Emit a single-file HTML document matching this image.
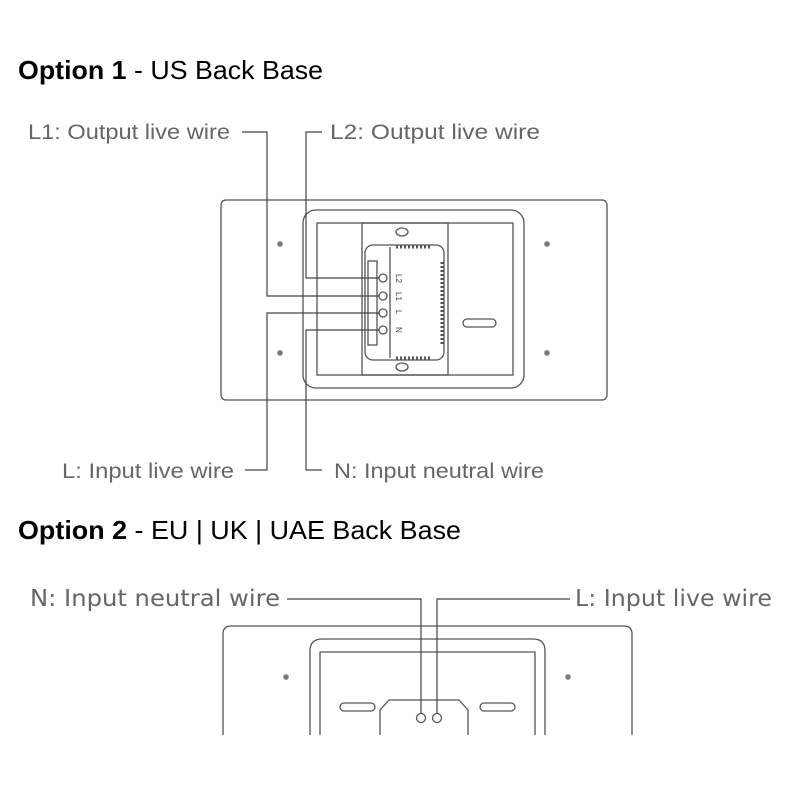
<!DOCTYPE html>
<html><head><meta charset="utf-8"><style>
html,body{margin:0;padding:0;background:#fff;width:800px;height:800px;overflow:hidden}
svg{display:block}
.t{font-family:"Liberation Sans",sans-serif;font-size:26px;fill:#000}
.l{font-family:"Liberation Sans",sans-serif;font-size:21px;fill:#666}
.l2{font-family:"DejaVu Sans","Liberation Sans",sans-serif;font-size:23px;fill:#666}
</style></head><body>
<svg width="800" height="800" viewBox="0 0 800 800" xmlns="http://www.w3.org/2000/svg">
<text x="18" y="79" class="t" textLength="305" lengthAdjust="spacingAndGlyphs"><tspan font-weight="bold">Option 1</tspan> - US Back Base</text>
<text x="18" y="539" class="t" textLength="443" lengthAdjust="spacingAndGlyphs"><tspan font-weight="bold">Option 2</tspan> - EU | UK | UAE Back Base</text>

<g fill="none" stroke="#555" stroke-width="1.3">
<rect x="221" y="200" width="386" height="200" rx="5"/>
<rect x="303" y="210" width="221" height="178" rx="13"/>
<rect x="317" y="223" width="196" height="152"/>
<rect x="362" y="223" width="86" height="152"/>
<ellipse cx="402" cy="232" rx="6" ry="4"/>
<ellipse cx="402" cy="367" rx="6" ry="4"/>
<rect x="365" y="245" width="79" height="115" rx="8"/>
<line x1="390" y1="247" x2="390" y2="358"/>
<rect x="368" y="261" width="9" height="84"/>
<circle cx="383" cy="278" r="4"/><circle cx="383" cy="296" r="4"/>
<circle cx="383" cy="313" r="4"/><circle cx="383" cy="330" r="4"/>
<rect x="463" y="319" width="33" height="8" rx="4"/>
</g>
<g fill="#777" stroke="#999" stroke-width="1">
<circle cx="280" cy="244" r="2.5"/><circle cx="547" cy="244" r="2.5"/>
<circle cx="280" cy="353" r="2.5"/><circle cx="547" cy="353" r="2.5"/>
<circle cx="286" cy="677" r="2.5"/><circle cx="568" cy="677" r="2.5"/>
</g>
<g stroke="#555" stroke-width="3" stroke-dasharray="2 2">
<line x1="396" y1="247" x2="432" y2="247"/>
<line x1="442" y1="262" x2="442" y2="346"/>
<line x1="396" y1="358" x2="432" y2="358"/>
</g>
<g font-family="Liberation Sans,sans-serif" font-size="8" fill="#444">
<text transform="translate(396,274) rotate(90)">L2</text>
<text transform="translate(396,292) rotate(90)">L1</text>
<text transform="translate(396,310) rotate(90)">L</text>
<text transform="translate(396,327) rotate(90)">N</text>
</g>
<g fill="none" stroke="#444" stroke-width="1.2">
<polyline points="242,132 267,132 267,296 379,296"/>
<polyline points="322,132 306,132 306,278 379,278"/>
<polyline points="245,470 267,470 267,313 379,313"/>
<polyline points="322,470 306,470 306,330 379,330"/>
</g>
<text x="28" y="139" class="l" textLength="202" lengthAdjust="spacingAndGlyphs">L1: Output live wire</text>
<text x="330" y="139" class="l" textLength="210" lengthAdjust="spacingAndGlyphs">L2: Output live wire</text>
<text x="62" y="478" class="l" textLength="172" lengthAdjust="spacingAndGlyphs">L: Input live wire</text>
<text x="334" y="478" class="l" textLength="210" lengthAdjust="spacingAndGlyphs">N: Input neutral wire</text>

<g fill="none" stroke="#555" stroke-width="1.3">
<path d="M223,740 V634 Q223,626 231,626 H624 Q632,626 632,634 V740"/>
<path d="M310,740 V651 Q310,639 322,639 H533 Q545,639 545,651 V740"/>
<path d="M320,740 V652 H535 V740"/>
<rect x="340" y="703" width="35" height="8" rx="4"/>
<rect x="480" y="703" width="35" height="8" rx="4"/>
<path d="M380,740 V710 L389,700 H459 L468,710 V740"/>
<circle cx="421" cy="718" r="4.5"/><circle cx="437" cy="718" r="4.5"/>
</g>
<rect x="0" y="735" width="800" height="65" fill="#fff"/>
<g fill="none" stroke="#444" stroke-width="1.2">
<polyline points="287,599 421,599 421,713"/>
<polyline points="570,599 437,599 437,713"/>
</g>
<text x="30" y="606" class="l2" textLength="250" lengthAdjust="spacingAndGlyphs">N: Input neutral wire</text>
<text x="575" y="606" class="l2" textLength="197" lengthAdjust="spacingAndGlyphs">L: Input live wire</text>
</svg>
</body></html>
